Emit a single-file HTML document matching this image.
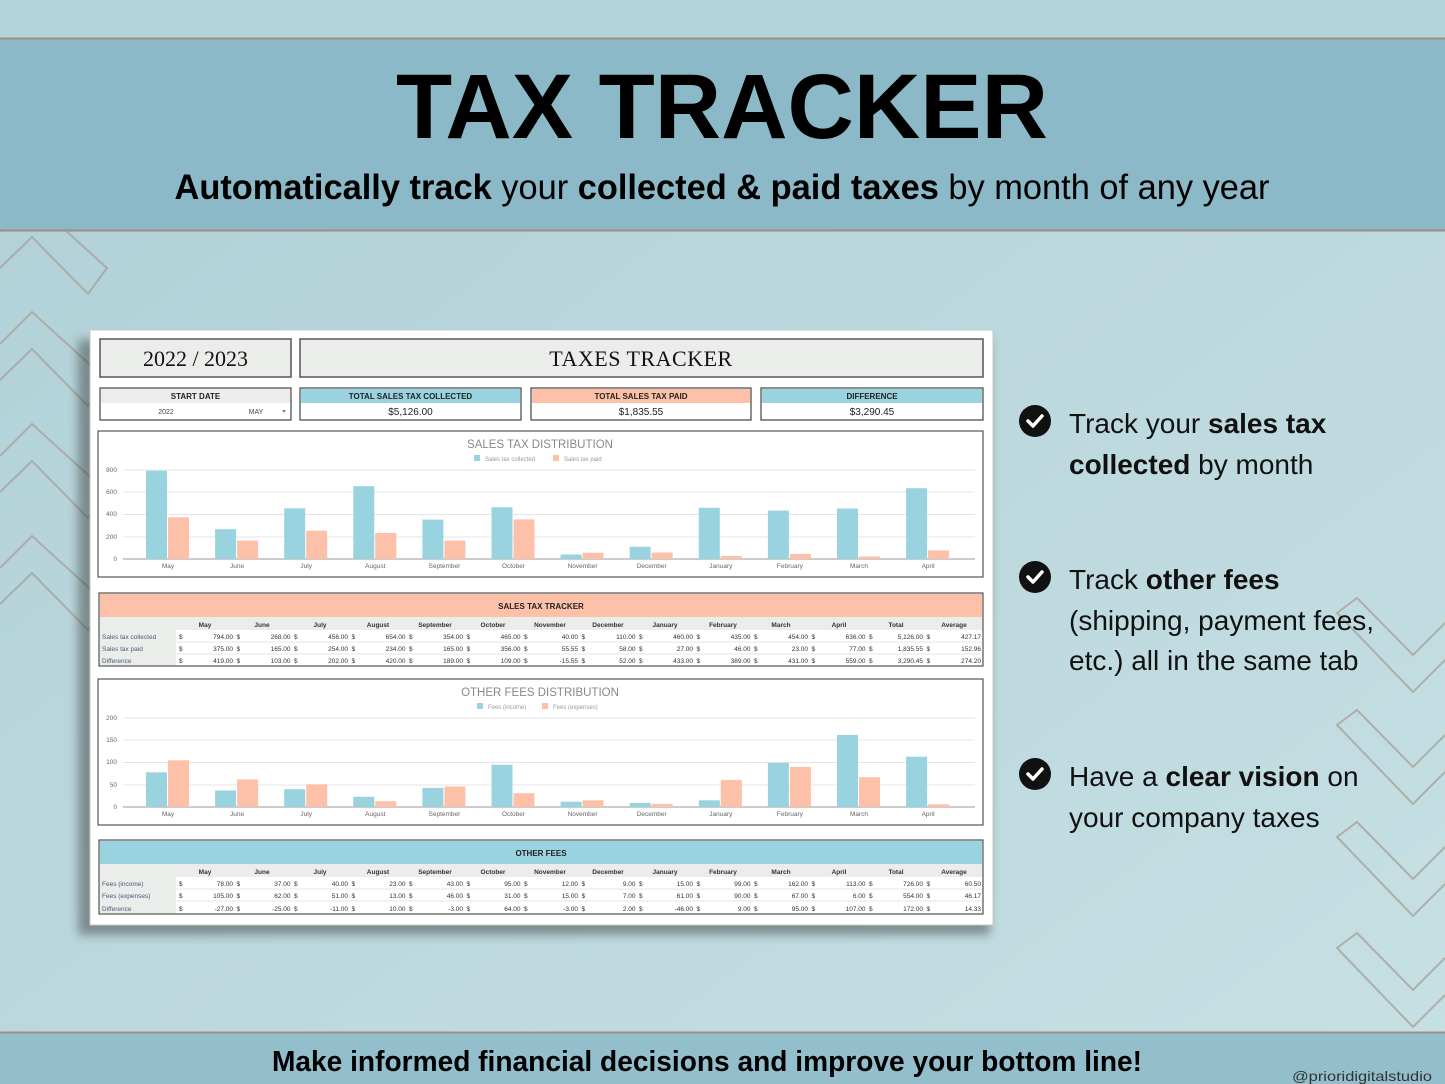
<!DOCTYPE html>
<html><head><meta charset="utf-8"><style>
html,body{margin:0;padding:0;background:#b4d3d9;}
svg{display:block;font-family:"Liberation Sans",sans-serif;}
</style></head><body>
<svg width="1445" height="1084" viewBox="0 0 1445 1084" xmlns="http://www.w3.org/2000/svg">
<defs>
<linearGradient id="bg" x1="0" y1="0" x2="1" y2="1"><stop offset="0" stop-color="#b0d0d7"/><stop offset="1" stop-color="#c6e0e3"/></linearGradient>
<filter id="sh" x="-5%" y="-5%" width="110%" height="110%"><feGaussianBlur stdDeviation="5"/></filter>
</defs>
<rect width="1445" height="1084" fill="url(#bg)"/>
<rect x="0" y="0" width="1445" height="38" fill="#b3d4da"/>
<!-- chevrons left -->
<g fill="none" stroke="#a9a79f" stroke-width="2" opacity="0.85">
<polyline points="0,232 32,200 107,268 88,294 32,237 0,268"/>
<polyline points="0,344 32,312 107,380 88,406 32,349 0,380"/>
<polyline points="0,456 32,424 107,492 88,518 32,461 0,492"/>
<polyline points="0,568 32,536 107,604 88,630 32,573 0,604"/>
</g>
<!-- right chevrons -->
<g fill="none" stroke="#a9a79f" stroke-width="2" opacity="0.85">
<polyline points="1445,623 1413,655 1357,598 1337,613 1413,692 1445,660"/>
<polyline transform="translate(0,112)" points="1445,623 1413,655 1357,598 1337,613 1413,692 1445,660"/>
<polyline transform="translate(0,224)" points="1445,623 1413,655 1357,598 1337,613 1413,692 1445,660"/>
<polyline transform="translate(0,335)" points="1445,623 1413,655 1357,598 1337,613 1413,692 1445,660"/>
</g>
<!-- header band -->
<rect x="0" y="38" width="1445" height="193" fill="#8cb9c7"/>
<line x1="0" y1="38.5" x2="1445" y2="38.5" stroke="#9d8f80" stroke-width="2"/>
<line x1="0" y1="230.5" x2="1445" y2="230.5" stroke="#9d8f80" stroke-width="2"/>
<text x="722" y="138" text-anchor="middle" font-size="92" font-weight="bold" textLength="652" lengthAdjust="spacingAndGlyphs" fill="#000">TAX TRACKER</text>
<text x="722" y="199" text-anchor="middle" font-size="35" fill="#000" textLength="1095" lengthAdjust="spacingAndGlyphs"><tspan font-weight="bold">Automatically track</tspan> your <tspan font-weight="bold">collected &amp; paid taxes</tspan> by month of any year</text>

<!-- bottom band -->
<rect x="0" y="1032" width="1445" height="52" fill="#93bfcc"/>
<line x1="0" y1="1032.5" x2="1445" y2="1032.5" stroke="#9d8f80" stroke-width="2"/>
<text x="707" y="1071" text-anchor="middle" font-size="29" font-weight="bold" fill="#000" textLength="870" lengthAdjust="spacingAndGlyphs">Make informed financial decisions and improve your bottom line!</text>
<text x="1292" y="1081" font-size="14" fill="#333" textLength="140" lengthAdjust="spacingAndGlyphs">@prioridigitalstudio</text>

<!-- right bullet list -->
<g fill="#111">
<circle cx="1035" cy="421" r="16"/><circle cx="1035" cy="577" r="16"/><circle cx="1035" cy="774" r="16"/>
</g>
<g fill="none" stroke="#fff" stroke-width="3.5" stroke-linecap="round" stroke-linejoin="round">
<polyline points="1028,421 1033,426 1042,416"/><polyline points="1028,577 1033,582 1042,572"/><polyline points="1028,774 1033,779 1042,769"/>
</g>
<g font-size="28" fill="#111">
<text x="1069" y="433">Track your <tspan font-weight="bold">sales tax</tspan></text>
<text x="1069" y="474"><tspan font-weight="bold">collected</tspan> by month</text>
<text x="1069" y="589">Track <tspan font-weight="bold">other fees</tspan></text>
<text x="1069" y="630">(shipping, payment fees,</text>
<text x="1069" y="670">etc.) all in the same tab</text>
<text x="1069" y="786">Have a <tspan font-weight="bold">clear vision</tspan> on</text>
<text x="1069" y="827">your company taxes</text>
</g>

<!-- spreadsheet card -->
<rect x="78" y="340" width="912" height="595" fill="#333" opacity="0.45" filter="url(#sh)"/>
<rect x="90" y="330" width="903" height="595" fill="#fff" stroke="#c8c8c8"/>

<g font-family="'Liberation Serif',serif" font-size="22" fill="#111">
<rect x="100" y="339" width="191" height="38" fill="#ebedea" stroke="#555" stroke-width="1.5"/>
<text x="195.5" y="366" text-anchor="middle">2022 / 2023</text>
<rect x="300" y="339" width="683" height="38" fill="#ebedea" stroke="#555" stroke-width="1.5"/>
<text x="641" y="366" text-anchor="middle" letter-spacing="0.5">TAXES TRACKER</text>
</g>

<g font-size="8">
<rect x="100" y="388" width="191" height="32" fill="#fff" stroke="#444" stroke-width="1.2"/>
<rect x="101" y="389" width="189" height="14" fill="#ebedea"/>
<text x="195.5" y="399" text-anchor="middle" font-weight="bold" fill="#222">START DATE</text>
<text x="166" y="414" text-anchor="middle" font-size="7" fill="#444">2022</text>
<text x="256" y="414" text-anchor="middle" font-size="7" fill="#444">MAY</text>
<polygon points="282,410 286,410 284,413" fill="#888"/>

<rect x="300" y="388" width="221" height="32" fill="#fff" stroke="#444" stroke-width="1.2"/>
<rect x="301" y="389" width="219" height="14" fill="#99d3df"/>
<text x="410.5" y="399" text-anchor="middle" font-weight="bold" fill="#222">TOTAL SALES TAX COLLECTED</text>
<text x="410.5" y="415" text-anchor="middle" font-size="10" fill="#222">$5,126.00</text>

<rect x="531" y="388" width="220" height="32" fill="#fff" stroke="#444" stroke-width="1.2"/>
<rect x="532" y="389" width="218" height="14" fill="#fcc1a8"/>
<text x="641" y="399" text-anchor="middle" font-weight="bold" fill="#222">TOTAL SALES TAX PAID</text>
<text x="641" y="415" text-anchor="middle" font-size="10" fill="#222">$1,835.55</text>

<rect x="761" y="388" width="222" height="32" fill="#fff" stroke="#444" stroke-width="1.2"/>
<rect x="762" y="389" width="220" height="14" fill="#99d3df"/>
<text x="872" y="399" text-anchor="middle" font-weight="bold" fill="#222">DIFFERENCE</text>
<text x="872" y="415" text-anchor="middle" font-size="10" fill="#222">$3,290.45</text>
</g>

<!-- chart 1 -->
<rect x="98" y="431" width="885" height="146" fill="#fff" stroke="#555" stroke-width="1.2"/>
<text x="540" y="448" text-anchor="middle" font-size="11.5" fill="#888">SALES TAX DISTRIBUTION</text>
<rect x="474" y="455" width="6" height="6" fill="#99d3df"/><text x="485" y="461" font-size="6" fill="#999">Sales tax collected</text>
<rect x="553" y="455" width="6" height="6" fill="#fcc1a8"/><text x="564" y="461" font-size="6" fill="#999">Sales tax paid</text>
<g stroke="#e4e4e4" stroke-width="1">
<line x1="123" y1="470" x2="975" y2="470"/><line x1="123" y1="492" x2="975" y2="492"/><line x1="123" y1="514.5" x2="975" y2="514.5"/><line x1="123" y1="537" x2="975" y2="537"/>
</g>
<line x1="123" y1="559" x2="975" y2="559" stroke="#999"/>
<g font-size="6.5" fill="#666" text-anchor="end">
<text x="117" y="472">800</text><text x="117" y="494">600</text><text x="117" y="516">400</text><text x="117" y="539">200</text><text x="117" y="561">0</text>
</g>
<g>
<g transform="translate(168,559)"><rect x="-22" y="-88.3" width="21" height="88.3" fill="#99d3df"/><rect x="0" y="-41.7" width="21" height="41.7" fill="#fcc1a8"/></g>
<g transform="translate(237.1,559)"><rect x="-22" y="-29.8" width="21" height="29.8" fill="#99d3df"/><rect x="0" y="-18.4" width="21" height="18.4" fill="#fcc1a8"/></g>
<g transform="translate(306.2,559)"><rect x="-22" y="-50.7" width="21" height="50.7" fill="#99d3df"/><rect x="0" y="-28.3" width="21" height="28.3" fill="#fcc1a8"/></g>
<g transform="translate(375.3,559)"><rect x="-22" y="-72.8" width="21" height="72.8" fill="#99d3df"/><rect x="0" y="-26" width="21" height="26" fill="#fcc1a8"/></g>
<g transform="translate(444.4,559)"><rect x="-22" y="-39.4" width="21" height="39.4" fill="#99d3df"/><rect x="0" y="-18.4" width="21" height="18.4" fill="#fcc1a8"/></g>
<g transform="translate(513.5,559)"><rect x="-22" y="-51.7" width="21" height="51.7" fill="#99d3df"/><rect x="0" y="-39.6" width="21" height="39.6" fill="#fcc1a8"/></g>
<g transform="translate(582.6,559)"><rect x="-22" y="-4.5" width="21" height="4.5" fill="#99d3df"/><rect x="0" y="-6.2" width="21" height="6.2" fill="#fcc1a8"/></g>
<g transform="translate(651.7,559)"><rect x="-22" y="-12.2" width="21" height="12.2" fill="#99d3df"/><rect x="0" y="-6.5" width="21" height="6.5" fill="#fcc1a8"/></g>
<g transform="translate(720.8,559)"><rect x="-22" y="-51.2" width="21" height="51.2" fill="#99d3df"/><rect x="0" y="-3" width="21" height="3" fill="#fcc1a8"/></g>
<g transform="translate(789.9,559)"><rect x="-22" y="-48.4" width="21" height="48.4" fill="#99d3df"/><rect x="0" y="-5.1" width="21" height="5.1" fill="#fcc1a8"/></g>
<g transform="translate(859,559)"><rect x="-22" y="-50.5" width="21" height="50.5" fill="#99d3df"/><rect x="0" y="-2.6" width="21" height="2.6" fill="#fcc1a8"/></g>
<g transform="translate(928.1,559)"><rect x="-22" y="-70.8" width="21" height="70.8" fill="#99d3df"/><rect x="0" y="-8.6" width="21" height="8.6" fill="#fcc1a8"/></g>
</g>
<text y="568" font-size="6.5" fill="#666" text-anchor="middle"><tspan x="168">May</tspan><tspan x="237.1">June</tspan><tspan x="306.2">July</tspan><tspan x="375.3">August</tspan><tspan x="444.4">September</tspan><tspan x="513.5">October</tspan><tspan x="582.6">November</tspan><tspan x="651.7">December</tspan><tspan x="720.8">January</tspan><tspan x="789.9">February</tspan><tspan x="859">March</tspan><tspan x="928.1">April</tspan></text>

<!-- table 1 -->
<rect x="99" y="593" width="884" height="73" fill="#ebedea" stroke="#555" stroke-width="1.2"/>
<rect x="100" y="594" width="882" height="23" fill="#fcc1a8"/>
<text x="541" y="609" text-anchor="middle" font-size="8" font-weight="bold" fill="#222">SALES TAX TRACKER</text>
<rect x="176" y="630" width="806" height="35" fill="#fff"/>
<line x1="176" y1="642" x2="982" y2="642" stroke="#e6e6e6"/><line x1="176" y1="654" x2="982" y2="654" stroke="#e6e6e6"/>
<g font-size="6.5" fill="#333">
<text y="627" text-anchor="middle" font-weight="bold"><tspan x="205">May</tspan><tspan x="262">June</tspan><tspan x="320">July</tspan><tspan x="378">August</tspan><tspan x="435">September</tspan><tspan x="493">October</tspan><tspan x="550">November</tspan><tspan x="608">December</tspan><tspan x="665">January</tspan><tspan x="723">February</tspan><tspan x="781">March</tspan><tspan x="839">April</tspan><tspan x="896">Total</tspan><tspan x="954">Average</tspan></text>
<text x="102" y="639" fill="#4a5a7a">Sales tax collected</text>
<text x="102" y="651" fill="#4a5a7a">Sales tax paid</text>
<text x="102" y="663" fill="#4a5a7a">Difference</text>
<text y="639"><tspan x="179">$</tspan><tspan x="236.5">$</tspan><tspan x="294">$</tspan><tspan x="351.5">$</tspan><tspan x="409">$</tspan><tspan x="466.5">$</tspan><tspan x="524">$</tspan><tspan x="581.5">$</tspan><tspan x="639">$</tspan><tspan x="696.5">$</tspan><tspan x="754">$</tspan><tspan x="811.5">$</tspan><tspan x="869">$</tspan><tspan x="926.5">$</tspan></text>
<text y="651"><tspan x="179">$</tspan><tspan x="236.5">$</tspan><tspan x="294">$</tspan><tspan x="351.5">$</tspan><tspan x="409">$</tspan><tspan x="466.5">$</tspan><tspan x="524">$</tspan><tspan x="581.5">$</tspan><tspan x="639">$</tspan><tspan x="696.5">$</tspan><tspan x="754">$</tspan><tspan x="811.5">$</tspan><tspan x="869">$</tspan><tspan x="926.5">$</tspan></text>
<text y="663"><tspan x="179">$</tspan><tspan x="236.5">$</tspan><tspan x="294">$</tspan><tspan x="351.5">$</tspan><tspan x="409">$</tspan><tspan x="466.5">$</tspan><tspan x="524">$</tspan><tspan x="581.5">$</tspan><tspan x="639">$</tspan><tspan x="696.5">$</tspan><tspan x="754">$</tspan><tspan x="811.5">$</tspan><tspan x="869">$</tspan><tspan x="926.5">$</tspan></text>
<text y="639" text-anchor="end"><tspan x="233">794.00</tspan><tspan x="290.5">268.00</tspan><tspan x="348">456.00</tspan><tspan x="405.5">654.00</tspan><tspan x="463">354.00</tspan><tspan x="520.5">465.00</tspan><tspan x="578">40.00</tspan><tspan x="635.5">110.00</tspan><tspan x="693">460.00</tspan><tspan x="750.5">435.00</tspan><tspan x="808">454.00</tspan><tspan x="865.5">636.00</tspan><tspan x="923">5,126.00</tspan><tspan x="981">427.17</tspan></text>
<text y="651" text-anchor="end"><tspan x="233">375.00</tspan><tspan x="290.5">165.00</tspan><tspan x="348">254.00</tspan><tspan x="405.5">234.00</tspan><tspan x="463">165.00</tspan><tspan x="520.5">356.00</tspan><tspan x="578">55.55</tspan><tspan x="635.5">58.00</tspan><tspan x="693">27.00</tspan><tspan x="750.5">46.00</tspan><tspan x="808">23.00</tspan><tspan x="865.5">77.00</tspan><tspan x="923">1,835.55</tspan><tspan x="981">152.96</tspan></text>
<text y="663" text-anchor="end"><tspan x="233">419.00</tspan><tspan x="290.5">103.00</tspan><tspan x="348">202.00</tspan><tspan x="405.5">420.00</tspan><tspan x="463">189.00</tspan><tspan x="520.5">109.00</tspan><tspan x="578">-15.55</tspan><tspan x="635.5">52.00</tspan><tspan x="693">433.00</tspan><tspan x="750.5">389.00</tspan><tspan x="808">431.00</tspan><tspan x="865.5">559.00</tspan><tspan x="923">3,290.45</tspan><tspan x="981">274.20</tspan></text>
</g>

<!-- chart 2 -->
<rect x="98" y="679" width="885" height="146" fill="#fff" stroke="#555" stroke-width="1.2"/>
<text x="540" y="696" text-anchor="middle" font-size="11.5" fill="#888">OTHER FEES DISTRIBUTION</text>
<rect x="477" y="703" width="6" height="6" fill="#99d3df"/><text x="488" y="709" font-size="6" fill="#999">Fees (income)</text>
<rect x="542" y="703" width="6" height="6" fill="#fcc1a8"/><text x="553" y="709" font-size="6" fill="#999">Fees (expenses)</text>
<g stroke="#e4e4e4" stroke-width="1">
<line x1="123" y1="718" x2="975" y2="718"/><line x1="123" y1="740" x2="975" y2="740"/><line x1="123" y1="762.5" x2="975" y2="762.5"/><line x1="123" y1="785" x2="975" y2="785"/>
</g>
<line x1="123" y1="807" x2="975" y2="807" stroke="#999"/>
<g font-size="6.5" fill="#666" text-anchor="end">
<text x="117" y="720">200</text><text x="117" y="742">150</text><text x="117" y="764">100</text><text x="117" y="787">50</text><text x="117" y="809">0</text>
</g>
<g>
<g transform="translate(168,807)"><rect x="-22" y="-34.7" width="21" height="34.7" fill="#99d3df"/><rect x="0" y="-46.7" width="21" height="46.7" fill="#fcc1a8"/></g>
<g transform="translate(237.1,807)"><rect x="-22" y="-16.5" width="21" height="16.5" fill="#99d3df"/><rect x="0" y="-27.6" width="21" height="27.6" fill="#fcc1a8"/></g>
<g transform="translate(306.2,807)"><rect x="-22" y="-17.8" width="21" height="17.8" fill="#99d3df"/><rect x="0" y="-22.7" width="21" height="22.7" fill="#fcc1a8"/></g>
<g transform="translate(375.3,807)"><rect x="-22" y="-10.2" width="21" height="10.2" fill="#99d3df"/><rect x="0" y="-5.8" width="21" height="5.8" fill="#fcc1a8"/></g>
<g transform="translate(444.4,807)"><rect x="-22" y="-19.1" width="21" height="19.1" fill="#99d3df"/><rect x="0" y="-20.5" width="21" height="20.5" fill="#fcc1a8"/></g>
<g transform="translate(513.5,807)"><rect x="-22" y="-42.3" width="21" height="42.3" fill="#99d3df"/><rect x="0" y="-13.8" width="21" height="13.8" fill="#fcc1a8"/></g>
<g transform="translate(582.6,807)"><rect x="-22" y="-5.3" width="21" height="5.3" fill="#99d3df"/><rect x="0" y="-6.7" width="21" height="6.7" fill="#fcc1a8"/></g>
<g transform="translate(651.7,807)"><rect x="-22" y="-4" width="21" height="4" fill="#99d3df"/><rect x="0" y="-3.1" width="21" height="3.1" fill="#fcc1a8"/></g>
<g transform="translate(720.8,807)"><rect x="-22" y="-6.7" width="21" height="6.7" fill="#99d3df"/><rect x="0" y="-27.1" width="21" height="27.1" fill="#fcc1a8"/></g>
<g transform="translate(789.9,807)"><rect x="-22" y="-44.1" width="21" height="44.1" fill="#99d3df"/><rect x="0" y="-40.1" width="21" height="40.1" fill="#fcc1a8"/></g>
<g transform="translate(859,807)"><rect x="-22" y="-72.1" width="21" height="72.1" fill="#99d3df"/><rect x="0" y="-29.8" width="21" height="29.8" fill="#fcc1a8"/></g>
<g transform="translate(928.1,807)"><rect x="-22" y="-50.3" width="21" height="50.3" fill="#99d3df"/><rect x="0" y="-2.7" width="21" height="2.7" fill="#fcc1a8"/></g>
</g>
<text y="816" font-size="6.5" fill="#666" text-anchor="middle"><tspan x="168">May</tspan><tspan x="237.1">June</tspan><tspan x="306.2">July</tspan><tspan x="375.3">August</tspan><tspan x="444.4">September</tspan><tspan x="513.5">October</tspan><tspan x="582.6">November</tspan><tspan x="651.7">December</tspan><tspan x="720.8">January</tspan><tspan x="789.9">February</tspan><tspan x="859">March</tspan><tspan x="928.1">April</tspan></text>

<!-- table 2 -->
<rect x="99" y="840" width="884" height="74" fill="#ebedea" stroke="#555" stroke-width="1.2"/>
<rect x="100" y="841" width="882" height="23" fill="#99d3df"/>
<text x="541" y="856" text-anchor="middle" font-size="8" font-weight="bold" fill="#222">OTHER FEES</text>
<rect x="176" y="877" width="806" height="36" fill="#fff"/>
<line x1="176" y1="889" x2="982" y2="889" stroke="#e6e6e6"/><line x1="176" y1="901" x2="982" y2="901" stroke="#e6e6e6"/>
<g font-size="6.5" fill="#333">
<text y="874" text-anchor="middle" font-weight="bold"><tspan x="205">May</tspan><tspan x="262">June</tspan><tspan x="320">July</tspan><tspan x="378">August</tspan><tspan x="435">September</tspan><tspan x="493">October</tspan><tspan x="550">November</tspan><tspan x="608">December</tspan><tspan x="665">January</tspan><tspan x="723">February</tspan><tspan x="781">March</tspan><tspan x="839">April</tspan><tspan x="896">Total</tspan><tspan x="954">Average</tspan></text>
<text x="102" y="886" fill="#4a5a7a">Fees (income)</text>
<text x="102" y="898" fill="#4a5a7a">Fees (expenses)</text>
<text x="102" y="911" fill="#4a5a7a">Difference</text>
<text y="886"><tspan x="179">$</tspan><tspan x="236.5">$</tspan><tspan x="294">$</tspan><tspan x="351.5">$</tspan><tspan x="409">$</tspan><tspan x="466.5">$</tspan><tspan x="524">$</tspan><tspan x="581.5">$</tspan><tspan x="639">$</tspan><tspan x="696.5">$</tspan><tspan x="754">$</tspan><tspan x="811.5">$</tspan><tspan x="869">$</tspan><tspan x="926.5">$</tspan></text>
<text y="898"><tspan x="179">$</tspan><tspan x="236.5">$</tspan><tspan x="294">$</tspan><tspan x="351.5">$</tspan><tspan x="409">$</tspan><tspan x="466.5">$</tspan><tspan x="524">$</tspan><tspan x="581.5">$</tspan><tspan x="639">$</tspan><tspan x="696.5">$</tspan><tspan x="754">$</tspan><tspan x="811.5">$</tspan><tspan x="869">$</tspan><tspan x="926.5">$</tspan></text>
<text y="911"><tspan x="179">$</tspan><tspan x="236.5">$</tspan><tspan x="294">$</tspan><tspan x="351.5">$</tspan><tspan x="409">$</tspan><tspan x="466.5">$</tspan><tspan x="524">$</tspan><tspan x="581.5">$</tspan><tspan x="639">$</tspan><tspan x="696.5">$</tspan><tspan x="754">$</tspan><tspan x="811.5">$</tspan><tspan x="869">$</tspan><tspan x="926.5">$</tspan></text>
<text y="886" text-anchor="end"><tspan x="233">78.00</tspan><tspan x="290.5">37.00</tspan><tspan x="348">40.00</tspan><tspan x="405.5">23.00</tspan><tspan x="463">43.00</tspan><tspan x="520.5">95.00</tspan><tspan x="578">12.00</tspan><tspan x="635.5">9.00</tspan><tspan x="693">15.00</tspan><tspan x="750.5">99.00</tspan><tspan x="808">162.00</tspan><tspan x="865.5">113.00</tspan><tspan x="923">726.00</tspan><tspan x="981">60.50</tspan></text>
<text y="898" text-anchor="end"><tspan x="233">105.00</tspan><tspan x="290.5">62.00</tspan><tspan x="348">51.00</tspan><tspan x="405.5">13.00</tspan><tspan x="463">46.00</tspan><tspan x="520.5">31.00</tspan><tspan x="578">15.00</tspan><tspan x="635.5">7.00</tspan><tspan x="693">61.00</tspan><tspan x="750.5">90.00</tspan><tspan x="808">67.00</tspan><tspan x="865.5">6.00</tspan><tspan x="923">554.00</tspan><tspan x="981">46.17</tspan></text>
<text y="911" text-anchor="end"><tspan x="233">-27.00</tspan><tspan x="290.5">-25.00</tspan><tspan x="348">-11.00</tspan><tspan x="405.5">10.00</tspan><tspan x="463">-3.00</tspan><tspan x="520.5">64.00</tspan><tspan x="578">-3.00</tspan><tspan x="635.5">2.00</tspan><tspan x="693">-46.00</tspan><tspan x="750.5">9.00</tspan><tspan x="808">95.00</tspan><tspan x="865.5">107.00</tspan><tspan x="923">172.00</tspan><tspan x="981">14.33</tspan></text>
</g>
</svg>
</body></html>
